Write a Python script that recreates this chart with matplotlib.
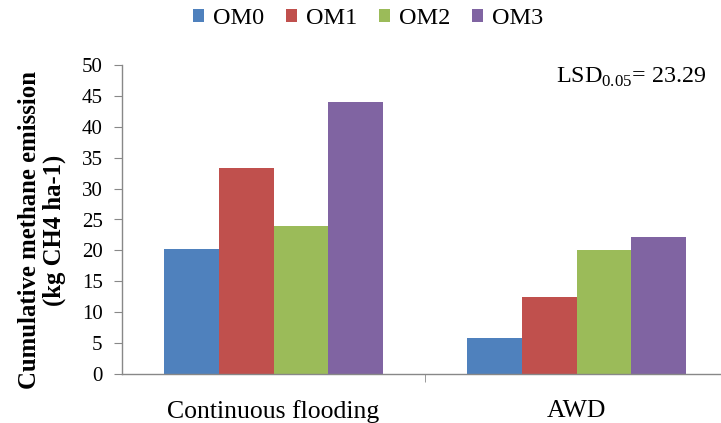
import matplotlib
matplotlib.use("Agg")
import matplotlib.pyplot as plt
import numpy as np

plt.rcParams['font.family'] = ['Liberation Serif', 'DejaVu Serif']
plt.rcParams['mathtext.fontset'] = 'custom'
plt.rcParams['mathtext.rm'] = 'Liberation Serif'

categories = ["Continuous flooding", "AWD"]
series_names = ["OM0", "OM1", "OM2", "OM3"]
values = {
    "OM0": [20.3, 5.8],
    "OM1": [33.4, 12.5],
    "OM2": [24.0, 20.0],
    "OM3": [44.0, 22.1],
}
colors = ["#4F81BD", "#C0504D", "#9BBB59", "#8064A2"]
y_ticks = [0, 5, 10, 15, 20, 25, 30, 35, 40, 45, 50]

fig = plt.figure(figsize=(7.21, 4.23), dpi=100)
ax = fig.add_axes([122 / 721, 1 - 374 / 423, (728 - 122) / 721, (374 - 65) / 423])

x = np.arange(len(categories))
width = 0.18
for i, (name, col) in enumerate(zip(series_names, colors)):
    ax.bar(x + (i - 1.5) * width, values[name], width, color=col, label=name,
           edgecolor='none', zorder=2)

ax.set_xlim(-0.5, 1.5)
ax.set_ylim(0, 50)
ax.set_yticks(y_ticks)
ax.set_yticklabels([str(t) for t in y_ticks], fontsize=15)
ax.set_xticks(x)
ax.set_xticklabels(categories, fontsize=18.5)
ax.tick_params(axis='x', length=0, pad=19)
ax.set_xticks([0.5], minor=True)
ax.tick_params(axis='x', which='minor', length=6, color='#888888', direction='out')
ax.tick_params(axis='y', length=6, color='#888888', direction='out', pad=8)

for s in ['top', 'right']:
    ax.spines[s].set_visible(False)
for s in ['left', 'bottom']:
    ax.spines[s].set_color('#888888')
    ax.spines[s].set_linewidth(1.0)

fig.text(42 / 721, 1 - 230 / 423, "Cumulative methane emission\n(kg CH4 ha-1)",
         rotation=90, ha='center', va='center', fontsize=17.8, fontweight='bold',
         linespacing=1.05)

fig.text(556 / 721, 1 - 77 / 423, r"LSD$_{0.05}$= 23.29", ha='left', va='center',
         fontsize=17.3)

fig.legend(loc='center', bbox_to_anchor=(368 / 721, 1 - 19 / 423), ncol=4,
           frameon=False, fontsize=17.5, handlelength=0.45, handleheight=0.45,
           handletextpad=0.37, columnspacing=0.9)

fig.savefig("out.png", dpi=100)
